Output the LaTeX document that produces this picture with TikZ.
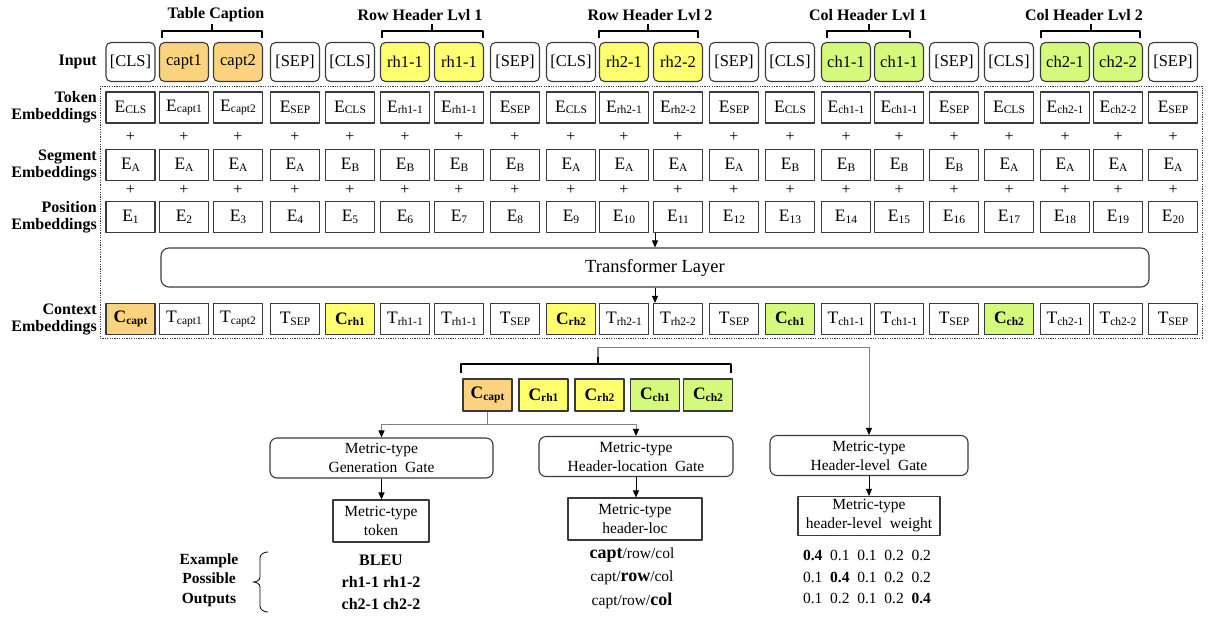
\documentclass[tikz,border=0pt]{standalone}
\usepackage{fontspec}
\setmainfont{Liberation Serif}
\usetikzlibrary{arrows.meta,calc}
\definecolor{capt}{HTML}{FBD27E}
\definecolor{rh}{HTML}{FFFF70}
\definecolor{ch}{HTML}{D5F97A}
\definecolor{bx}{HTML}{3A3A3A}
\definecolor{ln}{HTML}{808080}
\newcommand\mysub[1]{\raisebox{-1.5pt}{\fontsize{11.5}{12}\selectfont #1}}
\newcommand\fs[1]{\fontsize{#1}{#1}\selectfont}
\begin{document}
\begin{tikzpicture}[x=1pt,y=-1pt,line join=round,
  inbox/.style={draw=bx,line width=1.1pt,rounded corners=5pt,minimum width=49pt,minimum height=39pt,inner sep=0pt,font=\fs{16.5}},
  emb/.style={draw=bx,line width=1.1pt,minimum width=49pt,minimum height=31pt,inner sep=0pt,font=\fs{17.5}},
  lbl/.style={font=\bfseries\fontsize{16}{17}\selectfont,align=right,anchor=east,inner sep=0pt},
  toplbl/.style={font=\bfseries\fs{16}},
  brk/.style={line width=1.1pt,draw=black},
  plus/.style={font=\fs{16},inner sep=0pt},
  arr/.style={-{Triangle[length=7pt,width=6pt,color=black]},line width=0.9pt},
  gl/.style={draw=ln,line width=1.2pt},
  gate/.style={draw=bx,line width=1.1pt,rounded corners=7pt,minimum width=223pt,minimum height=40pt,align=center,inner sep=1pt,font=\fontsize{15.5}{19}\selectfont},
  outb/.style={draw=bx,line width=1.1pt,minimum height=42pt,align=center,inner sep=1pt,font=\fontsize{15.5}{19}\selectfont},
  cbox/.style={draw=bx,line width=1.1pt,minimum width=49pt,minimum height=32pt,inner sep=0pt,font=\bfseries\fs{17.5}},
  res/.style={font=\bfseries\fs{16}},
  wt/.style={font=\fs{15.5}}]
\useasboundingbox (0,0) rectangle (1209,619);

% top labels and brackets
\node[toplbl] (lcap) at (216,15) {Table Caption};
\node[toplbl] (lrh1) at (420,15) {Row Header Lvl 1};
\node[toplbl] (lrh2) at (650,15) {Row Header Lvl 2};
\node[toplbl] (lch1) at (868,15) {Col Header Lvl 1};
\node[toplbl] (lch2) at (1084,15) {Col Header Lvl 2};
\foreach \a/\b/\m in {162/262/212,382/483/432,599/698/648,827/910/869,1041/1140/1091}{
  \draw[brk] (\a,38) -- (\a,31) -- (\b,31) -- (\b,38);
  \draw[brk] (\m,31) -- (\m,24);
}

% left labels
\node[lbl] (linput) at (97,62) {Input};
\node[lbl] (ltok) at (97,107.5) {Token\\Embeddings};
\node[lbl] (lseg) at (97,165) {Segment\\Embeddings};
\node[lbl] (lpos) at (97,217) {Position\\Embeddings};
\node[lbl] (lctx) at (97,319) {Context\\Embeddings};

% dotted frame
\draw[draw=bx,line width=0.9pt,dash pattern=on 1.2pt off 1.2pt] (100,86) rectangle (1202,338);

% input row
\foreach \x/\t/\f [count=\i] in {130.5/{[CLS]}/white,184/capt1/capt,238/capt2/capt,295/{[SEP]}/white,350/{[CLS]}/white,405/rh1-1/rh,459/rh1-1/rh,515/{[SEP]}/white,571/{[CLS]}/white,624/rh2-1/rh,678/rh2-2/rh,734/{[SEP]}/white,790/{[CLS]}/white,846/ch1-1/ch,899/ch1-1/ch,954/{[SEP]}/white,1009/{[CLS]}/white,1065/ch2-1/ch,1118/ch2-2/ch,1173/{[SEP]}/white}
  \node[inbox,fill=\f] (in\i) at (\x,62) {\t};

% token embeddings
\foreach \x/\s [count=\i] in {130.5/CLS,184/capt1,238/capt2,295/SEP,350/CLS,405/rh1-1,459/rh1-1,515/SEP,571/CLS,624/rh2-1,678/rh2-2,734/SEP,790/CLS,846/ch1-1,899/ch1-1,954/SEP,1009/CLS,1065/ch2-1,1118/ch2-2,1173/SEP}{
  \node[emb] (tok\i) at (\x,107.5) {E\mysub{\s}};
  \node[plus] (pa\i) at (\x,137) {+};
  \node[plus] (pb\i) at (\x,190) {+};
  \node[emb] (pos\i) at (\x,217) {E\mysub{\i}};
}

% segment embeddings
\foreach \x/\s [count=\i] in {130.5/A,184/A,238/A,295/A,350/B,405/B,459/B,515/B,571/A,624/A,678/A,734/A,790/B,846/B,899/B,954/B,1009/A,1065/A,1118/A,1173/A}
  \node[emb] (seg\i) at (\x,165) {E\mysub{\s}};

% transformer
\node[draw=bx,line width=1.1pt,rounded corners=8pt,minimum width=988pt,minimum height=39pt,font=\fs{18.5}] (tl) at (655,267.5) {Transformer Layer};

% context embeddings
\foreach \x/\f/\t [count=\i] in {130.5/capt/{\textbf{C\mysub{capt}}},184/white/{T\mysub{capt1}},238/white/{T\mysub{capt2}},295/white/{T\mysub{SEP}},350/rh/{\textbf{C\mysub{rh1}}},405/white/{T\mysub{rh1-1}},459/white/{T\mysub{rh1-1}},515/white/{T\mysub{SEP}},571/rh/{\textbf{C\mysub{rh2}}},624/white/{T\mysub{rh2-1}},678/white/{T\mysub{rh2-2}},734/white/{T\mysub{SEP}},790/ch/{\textbf{C\mysub{ch1}}},846/white/{T\mysub{ch1-1}},899/white/{T\mysub{ch1-1}},954/white/{T\mysub{SEP}},1009/ch/{\textbf{C\mysub{ch2}}},1065/white/{T\mysub{ch2-1}},1118/white/{T\mysub{ch2-2}},1173/white/{T\mysub{SEP}}}
  \node[emb,fill=\f] (ctx\i) at (\x,319) {\t};

\draw[arr] (tl.north |- pos11.south) -- (tl.north);
\draw[arr] (tl.south) -- (tl.south |- ctx11.north);

% selected C boxes
\node[cbox,fill=capt] (cc1) at (487.5,395) {C\mysub{capt}};
\node[cbox,fill=rh] (cc2) at (543.5,395) {C\mysub{rh1}};
\node[cbox,fill=rh] (cc3) at (599.5,395) {C\mysub{rh2}};
\node[cbox,fill=ch] (cc4) at (655,395) {C\mysub{ch1}};
\node[cbox,fill=ch] (cc5) at (708,395) {C\mysub{ch2}};
\draw[brk] (461,373) -- (461,364) -- (731,364) -- (731,373);
\draw[brk] (598,364) -- (598,356);

% gates
\node[gate] (g1) at (381.5,458) {Metric-type\\Generation\ \ Gate};
\node[gate,minimum width=194pt] (g2) at (636,456.5) {Metric-type\\Header-location\ \ Gate};
\node[gate,minimum width=198pt] (g3) at (869,455.5) {Metric-type\\Header-level\ \ Gate};

\coordinate (t1) at (598,347);
\draw[gl] (598,357) -- (t1);
\draw[gl,arr] (t1) -- (t1 -| g3.north) -- (g3.north);
\coordinate (j) at (487.5,424);
\draw[gl] (cc1.south) -- (j);
\draw[gl,arr] (j) -| (g1.north);
\draw[gl,arr] (j) -| (g2.north);

% outputs
\node[outb,minimum width=96pt] (o1) at (381,521) {Metric-type\\token};
\node[outb,minimum width=134pt] (o2) at (635,519) {Metric-type\\header-loc};
\node[outb,minimum width=142pt,minimum height=39pt] (o3) at (869,516) {Metric-type\\header-level\ \ weight};
\draw[arr] (g1.south) -- (g1.south |- o1.north);
\draw[arr] (g2.south) -- (g2.south |- o2.north);
\draw[arr] (g3.south) -- (g3.south |- o3.north);

% examples
\node[font=\bfseries\fontsize{15.5}{19.5}\selectfont,align=center] (ex) at (209,580) {Example\\Possible\\Outputs};
\draw[line width=0.8pt] (268,552) to[out=180,in=90] (260,558) -- (260,577) to[out=270,in=0] (253,582) to[out=0,in=90] (260,587) -- (260,606) to[out=270,in=180] (268,612);

\node[res] (r11) at (381,560) {BLEU};
\node[res] (r12) at (381,582) {rh1-1 rh1-2};
\node[res] (r13) at (381,604) {ch2-1 ch2-2};

\node[wt] (r21) at (632,555) {\textbf{\fs{18}capt}/row/col};
\node[wt] (r22) at (632,578) {capt/\textbf{\fs{18}row}/col};
\node[wt] (r23) at (632,601) {capt/row/\textbf{\fs{18}col}};

\node[wt] (r31) at (867,555) {\textbf{0.4}\enspace 0.1\enspace 0.1\enspace 0.2\enspace 0.2};
\node[wt] (r32) at (867,577) {0.1\enspace \textbf{0.4}\enspace 0.1\enspace 0.2\enspace 0.2};
\node[wt] (r33) at (867,598) {0.1\enspace 0.2\enspace 0.1\enspace 0.2\enspace \textbf{0.4}};
\end{tikzpicture}
\end{document}
